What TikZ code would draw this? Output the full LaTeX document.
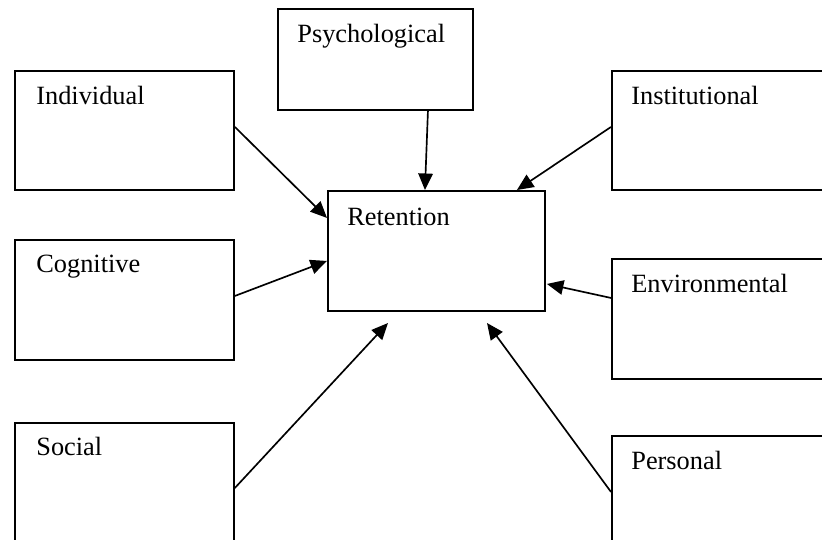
\documentclass[tikz,border=0pt]{standalone}
\usepackage{fontspec}
\setmainfont{Liberation Serif}
\usetikzlibrary{arrows.meta}

\tikzset{
  factor/.style={draw,line width=1.1pt,minimum width=4.38cm,minimum height=2.38cm,inner sep=0pt,anchor=north west},
  factorlbl/.style={anchor=base west,inner sep=0pt,font=\fontsize{15}{18}\selectfont},
  link/.style={line width=.95pt,-{Triangle[length=3.3mm,width=2.9mm]}}
}

\begin{document}
\begin{tikzpicture}[x=0.02cm,y=-0.02cm]
\path[use as bounding box,clip] (0,0) rectangle (822,540);
\fill[white] (0,0) rectangle (822,540);
% the outcome in the middle
\node[factor,minimum width=4.34cm,minimum height=2.4cm] (ret) at (327,190) {};
\node[factorlbl] at ([shift={(20,36)}]ret.north west) {Retention};
% factors round it
\node[factor,minimum width=3.9cm,minimum height=2.02cm] (psy) at (277,8) {};
\node[factorlbl] at ([shift={(20,35)}]psy.north west) {Psychological};
\node[factor] (ind) at (14,70) {};
\node[factorlbl] at ([shift={(22,35)}]ind.north west) {Individual};
\node[factor] (ins) at (611,70) {};
\node[factorlbl] at ([shift={(20,35)}]ins.north west) {Institutional};
\node[factor,minimum height=2.4cm] (cog) at (14,239) {};
\node[factorlbl] at ([shift={(22,34)}]cog.north west) {Cognitive};
\node[factor,minimum height=2.4cm] (env) at (611,258) {};
\node[factorlbl] at ([shift={(20,35)}]env.north west) {Environmental};
\node[factor,minimum height=2.4cm] (soc) at (14,422) {};
\node[factorlbl] at ([shift={(22,34)}]soc.north west) {Social};
\node[factor,minimum height=2.4cm] (per) at (611,435) {};
\node[factorlbl] at ([shift={(20,35)}]per.north west) {Personal};
% free ends below the outcome
\coordinate (socend) at (388,323);
\coordinate (perend) at (487,323);
% links into the outcome
\draw[link] ([shift={(0,-3.5)}]ind.east) -- ([shift={(0,-33)}]ret.west);
\draw[link] ([shift={(52.5,0)}]psy.south) -- ([shift={(-11.5,0)}]ret.north);
\draw[link] ([shift={(0,-3.5)}]ins.west) -- ([shift={(80.5,0)}]ret.north);
\draw[link] ([shift={(0,-4)}]cog.east) -- ([shift={(0,10)}]ret.west);
\draw[link] ([shift={(0,-21)}]env.west) -- ([shift={(1,33)}]ret.east);
\draw[link] ([shift={(0,5)}]soc.east) -- (socend);
\draw[link] ([shift={(0,-4)}]per.west) -- (perend);
\end{tikzpicture}
\end{document}
